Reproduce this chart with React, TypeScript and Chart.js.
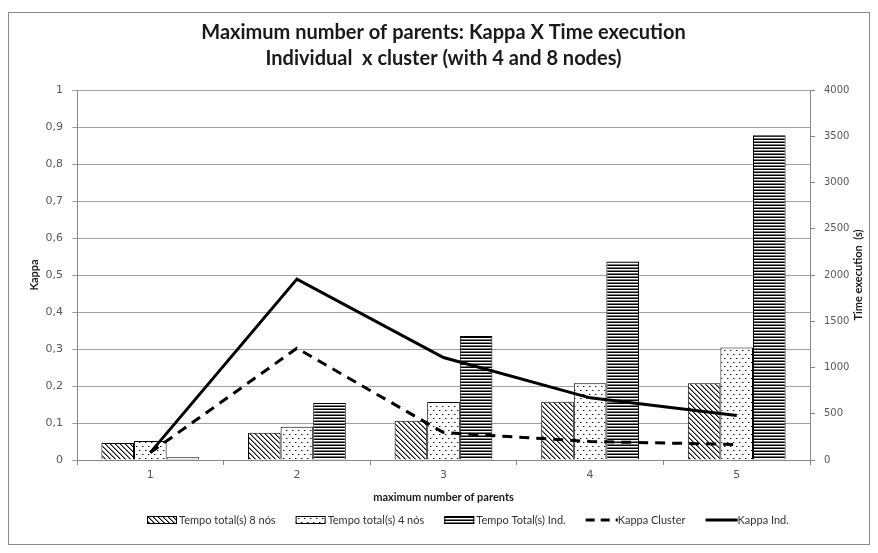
import React, { useEffect, useRef } from 'react';
import { Chart, registerables } from 'chart.js';
Chart.register(...registerables);

const categories = ['1', '2', '3', '4', '5'];
const tempo8Nos = [185, 295, 425, 630, 830];
const tempo4Nos = [205, 360, 627, 830, 1215];
const tempoInd = [30, 616, 1340, 2145, 3510];
const kappaCluster = [0.02, 0.302, 0.074, 0.05, 0.042];
const kappaInd = [0.02, 0.489, 0.277, 0.168, 0.12];

const seriesLabels = ['Tempo total(s) 8 nós', 'Tempo total(s) 4 nós', 'Tempo Total(s) Ind.', 'Kappa Cluster', 'Kappa Ind.'];
const titleLines = ['Maximum number of parents: Kappa X Time execution', 'Individual  x cluster (with 4 and 8 nodes)'];
const xTitle = 'maximum number of parents';
const yTitle = 'Kappa';
const y1Title = 'Time execution  (s)';

function makePattern(kind: string): CanvasPattern | string {
  const c = document.createElement('canvas');
  const g = c.getContext('2d')!;
  if (kind === 'hatch') {
    const n = 5;
    c.width = n; c.height = n;
    g.fillStyle = '#fff'; g.fillRect(0, 0, n, n);
    for (let x = 0; x < n; x++) for (let y = 0; y < n; y++) {
      const d = ((x - y) % n + n) % n;
      if (d === 0) { g.fillStyle = '#111'; g.fillRect(x, y, 1, 1); }
      else if (d === 1) { g.fillStyle = '#888'; g.fillRect(x, y, 1, 1); }
    }
  } else if (kind === 'dots') {
    c.width = 6; c.height = 8;
    g.fillStyle = '#fff'; g.fillRect(0, 0, 6, 8);
    g.fillStyle = '#111';
    g.fillRect(1, 1, 1, 1);
    g.fillRect(4, 5, 1, 1);
    g.fillStyle = '#999';
    g.fillRect(2, 1, 1, 1);
    g.fillRect(5, 5, 1, 1);
  } else {
    c.width = 2; c.height = 3;
    g.fillStyle = '#000'; g.fillRect(0, 0, 2, 1);
    g.fillStyle = '#fff'; g.fillRect(0, 1, 2, 1);
    g.fillStyle = '#7a7a7a'; g.fillRect(0, 2, 2, 1);
  }
  return g.createPattern(c, 'repeat') || '#888';
}

export default function App() {
  const ref = useRef<HTMLCanvasElement>(null);
  useEffect(() => {
    const hatch = makePattern('hatch');
    const dots = makePattern('dots');
    const stripes = makePattern('stripes');

    const overlay = {
      id: 'overlay',
      afterDraw(chart: any) {
        const { ctx, chartArea: a } = chart;
        const cx = (a.left + a.right) / 2;
        const cy = (a.top + a.bottom) / 2;
        ctx.save();
        ctx.fillStyle = '#1a1a1a';
        ctx.textAlign = 'center';
        ctx.textBaseline = 'middle';
        ctx.font = 'bold 20px Lato';
        ctx.fillText(titleLines[0], cx, 20);
        ctx.fillText(titleLines[1], cx, 46);
        ctx.font = 'bold 11px Lato';
        ctx.fillText(xTitle, cx, 484);
        ctx.save(); ctx.translate(25, cy); ctx.rotate(-Math.PI / 2); ctx.fillText(yTitle, 0, 0); ctx.restore();
        ctx.save(); ctx.translate(849, cy); ctx.rotate(-Math.PI / 2); ctx.fillText(y1Title, 0, 0); ctx.restore();

        // legend
        ctx.font = '11px Lato';
        ctx.textAlign = 'left';
        const ly = 507;
        let x = 138;
        const fills = [hatch, dots, stripes];
        seriesLabels.forEach((lab, i) => {
          if (i < 3) {
            ctx.fillStyle = fills[i];
            ctx.fillRect(x, ly - 4, 30, 8);
            ctx.strokeStyle = '#000';
            ctx.lineWidth = 1;
            ctx.strokeRect(x + 0.5, ly - 3.5, 29, 7);
          } else {
            ctx.strokeStyle = '#000';
            ctx.lineWidth = 3;
            ctx.setLineDash(i === 3 ? [9, 6] : []);
            ctx.beginPath();
            ctx.moveTo(x, ly);
            ctx.lineTo(x + 32, ly);
            ctx.stroke();
            ctx.setLineDash([]);
          }
          ctx.fillStyle = '#333';
          ctx.fillText(lab, x + 32, ly);
          x += 32 + ctx.measureText(lab).width + 20;
        });
        ctx.restore();
      },
    };

    const chart = new Chart(ref.current!, {
      type: 'bar',
      data: {
        labels: categories,
        datasets: [
          { type: 'line', label: seriesLabels[3], data: kappaCluster, yAxisID: 'y', borderColor: '#000', borderWidth: 3, borderDash: [10, 7], pointRadius: 0, tension: 0, order: 0, fill: false },
          { type: 'line', label: seriesLabels[4], data: kappaInd, yAxisID: 'y', borderColor: '#000', borderWidth: 3, pointRadius: 0, tension: 0, order: 0, fill: false },
          { type: 'bar', label: seriesLabels[0], data: tempo8Nos, yAxisID: 'y1', backgroundColor: hatch as any, borderColor: '#000', borderWidth: 1, order: 1, categoryPercentage: 0.667, barPercentage: 1 },
          { type: 'bar', label: seriesLabels[1], data: tempo4Nos, yAxisID: 'y1', backgroundColor: dots as any, borderColor: '#000', borderWidth: 1, order: 1, categoryPercentage: 0.667, barPercentage: 1 },
          { type: 'bar', label: seriesLabels[2], data: tempoInd, yAxisID: 'y1', backgroundColor: stripes as any, borderColor: '#000', borderWidth: 1, order: 1, categoryPercentage: 0.667, barPercentage: 1 },
        ] as any,
      },
      options: {
        responsive: false,
        animation: false,
        layout: { padding: { top: 77, left: 0, right: 0, bottom: 0 } },
        plugins: { legend: { display: false }, title: { display: false }, tooltip: { enabled: false } },
        scales: {
          x: {
            offset: true,
            grid: { offset: true, drawOnChartArea: false, drawTicks: true, tickLength: 5, color: '#888' },
            border: { color: '#888' },
            ticks: { color: '#595959', font: { family: 'DejaVu Sans', size: 11 }, padding: 4 },
            afterFit: (s: any) => { s.height = 84; },
          },
          y: {
            position: 'left',
            min: 0, max: 1,
            grid: { color: '#a0a0a0', tickLength: 5 },
            border: { color: '#888' },
            ticks: {
              stepSize: 0.1, color: '#595959', font: { family: 'DejaVu Sans', size: 11 }, padding: 9,
              callback: (v: any) => (v === 0 ? '0' : v === 1 ? '1' : Number(v).toFixed(1).replace('.', ',')),
            },
            afterFit: (s: any) => { s.width = 68; },
          },
          y1: {
            position: 'right',
            min: 0, max: 4000,
            grid: { drawOnChartArea: false, tickLength: 5, color: '#888' },
            border: { color: '#888' },
            ticks: {
              stepSize: 500, color: '#595959', font: { family: 'DejaVu Sans', size: 10 }, padding: 9,
              callback: (v: any) => String(v),
            },
            afterFit: (s: any) => { s.width = 59; },
          },
        },
      } as any,
      plugins: [overlay],
    });
    return () => chart.destroy();
  }, []);

  return (
    <div style={{ marginTop: 4, width: 860, height: 531, border: '1px solid #8a8a8a', background: '#fff' }}>
      <canvas ref={ref} width={860} height={531} style={{ display: 'block' }} />
    </div>
  );
}
